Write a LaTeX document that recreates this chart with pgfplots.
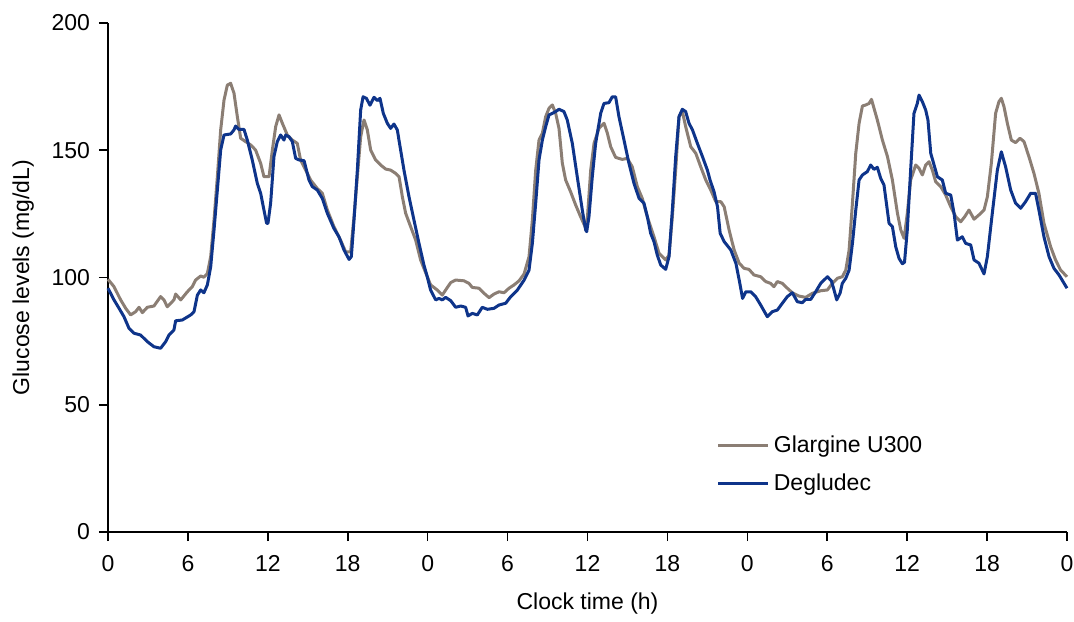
\documentclass[border=0pt]{standalone}
\usepackage{pgfplots}
\pgfplotsset{compat=1.18}
\usepackage{fontspec}
\setmainfont{Liberation Sans}
\definecolor{glargine}{RGB}{139,126,116}
\definecolor{degludec}{RGB}{14,52,138}
\newcommand\ff{\fontsize{11.5}{14}\selectfont}

\begin{document}
\begin{tikzpicture}
\begin{axis}[
    scale only axis, width=479.5pt, height=254.5pt,
    xmin=0, xmax=72, ymin=0, ymax=200,
    axis x line=bottom, axis y line=left,
    axis line style={-, line width=0.8pt},
    xtick={0,6,...,72},
    xticklabels={0,6,12,18,0,6,12,18,0,6,12,18,0},
    ytick={0,50,...,200},
    tick align=outside, major tick length=4.5pt,
    tick style={line width=0.8pt, black},
    /pgf/number format/assume math mode=true,
    tick label style={font=\ff},
    label style={font=\ff},
    xticklabel style={yshift=-3.5pt, inner xsep=0pt},
    yticklabel style={xshift=-1pt},
    xlabel={Clock time (h)}, ylabel={Glucose levels (mg/dL)},
    xlabel style={yshift=-4pt},
    ylabel style={yshift=2pt},
    legend style={draw=none, fill=none, font=\ff, at={(0.628,0.205)}, anchor=north west,
        row sep=5pt},
    legend cell align=left,
    legend image code/.code={\draw[#1, line width=1.6pt] (0pt,0pt) -- (25pt,0pt);},
    clip=false,
]
\path (rel axis cs:0,0) ++(-54pt,-39.5pt) (rel axis cs:1,1) ++(3.5pt,11.5pt);
\addplot[glargine, line width=1.5pt, line join=round] coordinates {
(0,99.3)(0.45,96.4)(0.95,91.2)(1.33,87.9)(1.7,85.3)(2.08,86.6)(2.33,88.3)(2.58,86.2)(2.95,88.3)(3.45,88.8)(3.95,92.5)(4.2,91.2)(4.45,88.5)(4.95,91.2)(5.08,93.5)(5.46,91.2)(5.96,94.4)(6.33,96.4)(6.58,99.0)(6.96,100.6)(7.2,100.1)(7.46,101.6)(7.71,108.2)(7.96,122.6)(8.21,139.6)(8.46,158.0)(8.71,169.7)(8.96,175.6)(9.21,176.3)(9.46,172.4)(9.71,163.2)(9.96,154.7)(10.33,153.4)(10.71,152.1)(11.08,150.1)(11.46,144.9)(11.71,139.6)(12.09,139.6)(12.34,150.1)(12.59,159.3)(12.84,163.9)(13.09,160.6)(13.46,156.0)(13.84,154.0)(14.21,152.7)(14.46,146.2)(14.84,142.2)(15.21,138.3)(15.71,135.0)(16.09,133.1)(16.47,126.5)(16.96,120.0)(17.46,114.7)(17.84,110.1)(18.22,110.1)(18.47,123.9)(18.72,139.6)(18.97,155.3)(19.22,161.9)(19.47,158.0)(19.72,150.1)(20.09,146.2)(20.47,144.2)(20.85,142.6)(21.22,142.2)(21.6,140.9)(21.85,139.6)(22.1,131.7)(22.35,125.2)(22.72,120.0)(23.1,114.7)(23.47,106.9)(23.97,100.3)(24.22,97.1)(24.72,95.1)(25.1,93.1)(25.35,95.1)(25.73,98.0)(26.1,99.0)(26.73,98.7)(27.1,97.7)(27.35,96.1)(27.85,95.8)(28.23,93.8)(28.61,92.1)(28.98,93.5)(29.36,94.4)(29.73,94.0)(30.11,95.8)(30.49,97.1)(30.86,98.7)(31.24,101.4)(31.61,108.2)(31.86,122.6)(32.11,142.2)(32.36,154.0)(32.61,156.7)(32.86,163.2)(33.11,166.5)(33.36,167.8)(33.61,164.5)(33.86,158.6)(34.11,144.9)(34.36,138.3)(34.73,133.7)(35.11,128.5)(35.48,123.9)(35.86,119.5)(36.0,124.0)(36.24,142.2)(36.49,152.7)(36.86,158.6)(37.24,160.6)(37.49,156.7)(37.74,151.4)(38.11,147.2)(38.61,146.4)(38.99,146.8)(39.36,143.5)(39.74,135.7)(40.11,131.1)(40.49,123.9)(40.99,116.0)(41.37,109.5)(41.87,106.9)(42.12,108.8)(42.37,123.9)(42.62,142.2)(42.87,163.2)(43.12,165.2)(43.37,159.3)(43.75,151.4)(44.13,148.8)(44.5,143.5)(44.88,138.3)(45.25,134.4)(45.63,129.8)(46.01,129.8)(46.26,127.8)(46.63,118.7)(47.01,110.8)(47.39,105.6)(47.76,103.6)(48.12,103.2)(48.5,101.0)(49.0,100.3)(49.38,98.4)(49.75,97.7)(50.0,96.4)(50.25,98.4)(50.63,97.7)(51.0,95.8)(51.38,94.0)(51.88,92.7)(52.38,92.2)(52.88,93.8)(53.51,94.8)(54.01,95.1)(54.38,97.7)(54.76,99.7)(55.13,100.3)(55.39,102.9)(55.64,110.8)(55.89,129.2)(56.14,148.8)(56.39,160.6)(56.64,167.4)(56.89,167.8)(57.14,168.4)(57.32,170.0)(57.51,166.5)(57.76,161.9)(58.14,154.0)(58.52,147.5)(58.89,138.3)(59.27,125.2)(59.52,118.7)(59.77,115.4)(60.01,125.2)(60.26,138.3)(60.64,144.2)(60.89,142.9)(61.14,140.3)(61.39,144.2)(61.64,145.5)(61.89,142.2)(62.14,137.6)(62.52,135.7)(62.89,132.4)(63.27,127.8)(63.64,123.9)(64.02,121.9)(64.32,123.9)(64.64,126.5)(65.02,122.9)(65.39,124.6)(65.77,126.5)(66.02,131.7)(66.32,144.9)(66.64,164.5)(66.89,169.1)(67.07,170.4)(67.27,167.1)(67.52,160.6)(67.82,154.0)(68.14,153.0)(68.47,154.7)(68.77,153.4)(69.14,147.5)(69.52,140.9)(69.89,133.1)(70.27,121.3)(70.77,112.1)(71.14,106.9)(71.52,102.9)(72,100.3)
};
\addlegendentry{Glargine U300}
\addplot[degludec, line width=1.5pt, line join=round] coordinates {
(0,95.8)(0.45,91.2)(0.83,87.9)(1.2,84.6)(1.58,80.0)(1.95,78.1)(2.45,77.4)(2.95,74.8)(3.45,72.8)(3.95,72.2)(4.33,74.8)(4.58,77.4)(4.95,79.4)(5.08,83.0)(5.58,83.3)(6.21,85.3)(6.46,86.6)(6.71,93.1)(6.96,95.1)(7.2,94.0)(7.46,97.1)(7.71,104.2)(7.96,118.7)(8.21,134.4)(8.46,150.1)(8.71,156.0)(9.21,156.4)(9.46,158.0)(9.58,159.5)(9.83,158.2)(10.21,158.2)(10.46,154.0)(10.83,146.2)(11.21,137.0)(11.46,133.1)(11.71,126.5)(11.91,121.3)(12.01,121.3)(12.21,129.2)(12.46,147.5)(12.71,153.4)(12.96,156.0)(13.21,154.0)(13.34,156.0)(13.59,155.3)(13.84,153.4)(14.09,146.8)(14.34,146.2)(14.72,145.9)(15.09,138.3)(15.34,135.7)(15.71,134.4)(16.09,131.1)(16.47,125.2)(16.96,119.3)(17.34,116.0)(17.72,110.8)(18.1,107.1)(18.27,108.2)(18.47,122.6)(18.72,142.2)(18.97,165.8)(19.15,171.0)(19.4,170.4)(19.67,167.7)(19.97,170.8)(20.22,169.5)(20.42,170.4)(20.67,164.5)(20.97,160.6)(21.22,158.6)(21.47,160.3)(21.72,158.0)(21.97,150.1)(22.22,142.2)(22.6,131.7)(22.97,122.6)(23.35,113.4)(23.72,104.9)(23.97,100.3)(24.22,95.1)(24.6,91.2)(24.85,91.8)(25.1,91.2)(25.35,92.2)(25.73,90.9)(26.1,88.3)(26.48,88.8)(26.85,88.3)(27.03,84.9)(27.35,85.9)(27.73,85.3)(28.1,88.3)(28.48,87.5)(28.98,87.9)(29.36,89.2)(29.86,89.9)(30.24,92.5)(30.74,95.1)(31.24,99.0)(31.61,102.9)(31.86,113.4)(32.11,129.2)(32.36,146.2)(32.61,154.0)(32.86,159.3)(33.11,163.9)(33.36,164.5)(33.61,165.2)(33.86,166.1)(34.23,165.2)(34.48,161.9)(34.86,152.7)(35.23,139.6)(35.61,126.5)(35.86,118.7)(35.94,118.0)(36.11,123.9)(36.36,139.6)(36.61,152.7)(36.99,164.5)(37.24,168.4)(37.61,168.7)(37.86,171.0)(38.11,171.0)(38.36,163.2)(38.74,154.0)(39.11,144.9)(39.49,137.0)(39.87,131.1)(40.24,129.2)(40.49,123.9)(40.74,117.4)(40.99,114.1)(41.24,108.8)(41.5,104.9)(41.87,103.2)(42.12,108.2)(42.37,126.5)(42.62,147.5)(42.87,163.2)(43.12,166.1)(43.37,165.2)(43.62,160.6)(43.88,158.0)(44.25,152.7)(44.63,147.5)(45.0,142.2)(45.2,138.3)(45.5,133.7)(45.76,127.8)(45.96,117.4)(46.26,114.1)(46.76,110.8)(47.14,105.6)(47.39,99.0)(47.64,91.8)(47.89,94.4)(48.25,94.4)(48.62,92.5)(49.0,89.2)(49.5,84.6)(49.88,86.6)(50.25,87.2)(50.63,89.9)(51.0,92.5)(51.38,94.0)(51.75,90.5)(52.13,90.1)(52.38,91.4)(52.76,91.4)(53.13,94.4)(53.51,97.7)(54.01,100.3)(54.31,98.7)(54.51,95.1)(54.71,91.2)(54.96,93.8)(55.13,97.7)(55.39,99.7)(55.64,102.9)(55.89,113.4)(56.14,126.5)(56.39,138.3)(56.64,140.3)(57.01,141.6)(57.26,144.2)(57.51,142.5)(57.76,143.3)(58.01,139.0)(58.26,136.3)(58.64,121.3)(58.89,120.0)(59.14,112.1)(59.39,107.5)(59.64,105.4)(59.8,106.0)(60.01,118.7)(60.26,142.2)(60.51,164.5)(60.76,168.4)(60.89,171.7)(61.14,169.1)(61.39,165.8)(61.56,161.9)(61.77,148.8)(62.02,144.2)(62.27,139.6)(62.64,138.3)(62.89,133.1)(63.27,132.4)(63.52,125.2)(63.77,114.7)(64.14,116.0)(64.39,113.4)(64.77,112.8)(65.02,106.9)(65.39,105.6)(65.77,101.4)(66.02,108.2)(66.39,125.2)(66.77,142.2)(67.07,149.4)(67.39,143.5)(67.77,134.4)(68.14,129.2)(68.52,127.2)(68.89,129.8)(69.27,133.1)(69.64,133.1)(69.89,126.5)(70.27,116.0)(70.65,108.2)(71.02,103.6)(71.4,101.0)(72,95.8)
};
\addlegendentry{Degludec}
\end{axis}
\end{tikzpicture}
\end{document}
